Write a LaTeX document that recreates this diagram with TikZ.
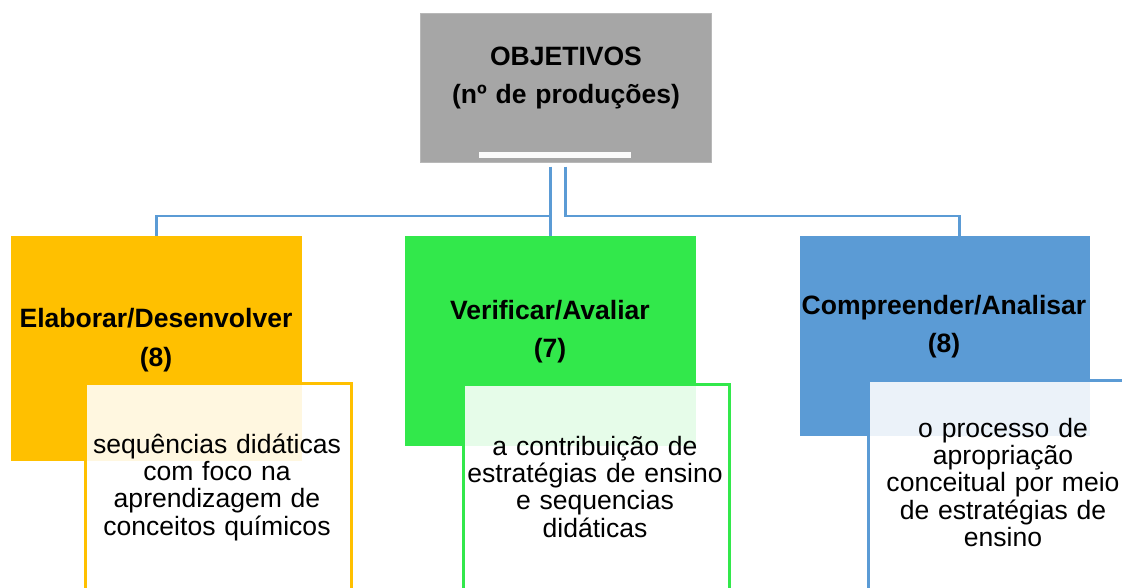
\documentclass[tikz,border=0pt]{standalone}
\usepackage{fontspec}
\setmainfont{Liberation Sans}
\usetikzlibrary{calc}
\definecolor{objgray}{HTML}{A6A6A6}
\definecolor{orgfill}{HTML}{FFC000}
\definecolor{grnfill}{RGB}{50,232,75}
\definecolor{blufill}{HTML}{5B9BD5}
\newcommand{\headfont}{\fontsize{19.9}{28.5}\selectfont\bfseries}
\newcommand{\bodyfont}{\fontsize{19.9}{20.6}\selectfont}
\tikzset{
    box/.style={draw=none, minimum width=218.25pt, inner sep=0pt, anchor=north west},
    inbox/.style={draw=#1, line width=1.9pt, fill=white, fill opacity=0.88,
        minimum width=199.5pt, minimum height=165pt, inner sep=0pt, anchor=north west},
    head/.style={anchor=base, inner sep=0pt, text width=230pt, align=center, font=\headfont},
    body/.style={anchor=base, inner sep=0pt, text width=200pt, align=center, font=\bodyfont},
    link/.style={draw=blufill, line width=2.2pt}
}
\begin{document}
\begin{tikzpicture}[x=0.75pt, y=-0.75pt]
    \clip (0,0) rectangle (1122,588);
    \fill[white] (0,0) rectangle (1122,588);
    % top box
    \node[box, fill=objgray, draw=objgray!80, minimum height=111.75pt] (obj) at (420,13) {};
    \fill[white!95!objgray] (479,152) rectangle (631,158);
    \node[head] (objtxt) at (566,66) {OBJETIVOS\\(nº de produções)};
    % coloured boxes
    \node[box, fill=orgfill, minimum height=168.75pt] (org) at (11,236) {};
    \node[box, fill=grnfill, minimum height=157.5pt] (grn) at (405,236) {};
    \node[box, fill=blufill, minimum width=217.5pt, minimum height=150pt] (blu) at (800,236) {};
    % connectors
    \draw[link] ($(obj.south -| grn.north)+(0,4)$) -- (grn.north);
    \draw[link] ($(grn.north)+(0,-20)$) -| (org.north);
    \draw[link] ($(obj.south)+(0,4)$) |- ($(blu.north)+(14,-20)$) -- ($(blu.north)+(14,0)$);
    % headings
    \node[head] (orgtxt) at (156,328) {Elaborar/Desenvolver\\(8)};
    \node[head] (grntxt) at (550,320) {Verificar/Avaliar\\(7)};
    \node[head] (blutxt) at (944,315) {Compreender/Analisar\\(8)};
    % inner boxes
    \node[inbox=orgfill] (orgin) at (84,382) {};
    \node[inbox=grnfill] (grnin) at (462,383) {};
    \node[inbox=blufill] (bluin) at (867,379) {};
    \node[body] (orgdesc) at (217,453) {sequências didáticas\\com foco na\\aprendizagem de\\conceitos químicos};
    \node[body] (grndesc) at (595,455) {a contribuição de\\estratégias de ensino\\e sequencias\\didáticas};
    \node[body] (bludesc) at (1003,437) {o processo de\\apropriação\\conceitual por meio\\de estratégias de\\ensino};
\end{tikzpicture}
\end{document}
